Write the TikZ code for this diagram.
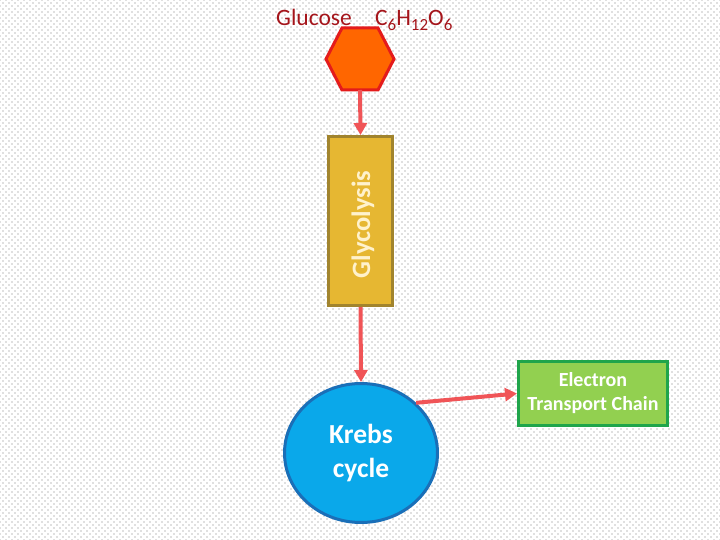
\documentclass[tikz,border=0pt]{standalone}
\usepackage{fontspec}
\setmainfont{Carlito}
\usetikzlibrary{arrows.meta,shapes.geometric,patterns.meta}
\definecolor{hexfill}{HTML}{FF6600}
\definecolor{hexline}{HTML}{E41B1B}
\definecolor{titlered}{HTML}{A5151B}
\definecolor{glyfill}{HTML}{E6B732}
\definecolor{glyline}{HTML}{A1842E}
\definecolor{glytext}{HTML}{FFF2CC}
\definecolor{krebsfill}{HTML}{0AA8EA}
\definecolor{krebsline}{HTML}{1A6FB8}
\definecolor{etcfill}{HTML}{92D050}
\definecolor{etcline}{HTML}{1FA54B}
\definecolor{arrowred}{HTML}{F05457}
\definecolor{dotgray}{HTML}{7A7A7A}
\newcommand{\chemsub}[1]{\raisebox{-5pt}{\fontsize{17}{17}\selectfont #1}}
\tikzset{
  flowarrow/.style={draw=arrowred, line width=4pt, -{Triangle[length=12pt,width=13pt]}},
  titletext/.style={text=titlered, font=\fontsize{23.5}{26}\selectfont, inner sep=0pt, anchor=base west},
}
\begin{document}
\begin{tikzpicture}[x=1pt,y=-1pt]
\useasboundingbox (0,0) rectangle (720,540);
\fill[white] (0,0) rectangle (720,540);
\fill[pattern={Dots[radius=0.6pt,distance=6pt]}, pattern color=dotgray] (0,0) rectangle (720,540);
\fill[pattern={Dots[radius=0.6pt,distance=6pt,xshift=3pt,yshift=3pt]}, pattern color=dotgray] (0,0) rectangle (720,540);

% title
\node[titletext] (gluc) at (276,26) {Glucose};
\node[titletext] (formula) at (375,26) {C\chemsub{6}H\chemsub{12}O\chemsub{6}};

% hexagon
\draw[fill=hexfill, draw=hexline, line width=3pt, line join=miter]
  (326,59) -- (342,28) -- (378,28) -- (394,59) -- (378,90) -- (342,90) -- cycle;
\coordinate (hexbot) at (360,90);

% glycolysis
\node[draw=glyline, fill=glyfill, line width=3pt, minimum width=64pt, minimum height=169pt, inner sep=0pt] (gly) at (360.5,221) {};
\node[rotate=90, text=glytext, font=\bfseries\fontsize{26.5}{30}\selectfont, inner sep=0pt] (glytxt) at (363,224.5) {Glycolysis};

% krebs
\node[ellipse, draw=krebsline, fill=krebsfill, line width=3pt, minimum width=153pt, minimum height=139pt, inner sep=0pt,
  text=white, font=\bfseries\fontsize{27.5}{34}\selectfont, align=center] (krebs) at (361,453) {Krebs\\cycle};

% ETC
\node[draw=etcline, fill=etcfill, line width=3pt, minimum width=149pt, minimum height=64pt, inner sep=0pt,
  text=white, font=\bfseries\fontsize{20}{24}\selectfont, align=center] (etc) at (593,393.5) {Electron\\Transport Chain};

% arrows
\draw[flowarrow] (hexbot) -- (gly.north);
\draw[flowarrow] (gly.south) -- (krebs.north);
\draw[flowarrow] (krebs.north east) -- (etc.west);
\end{tikzpicture}
\end{document}
